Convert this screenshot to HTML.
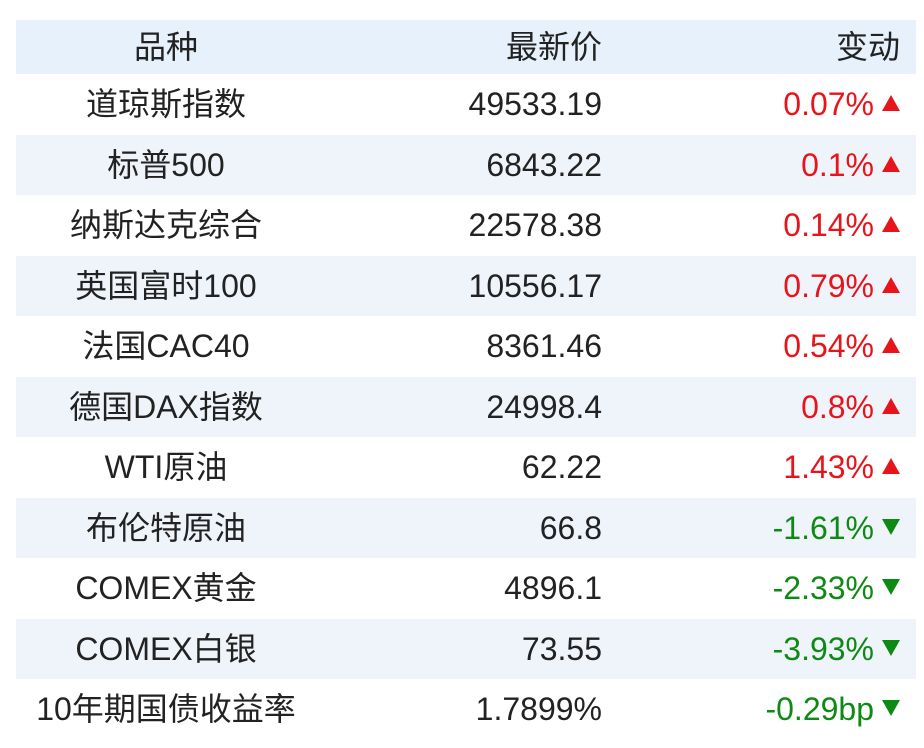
<!DOCTYPE html>
<html><head><meta charset="utf-8"><style>
body{margin:0;background:#fff;width:924px;height:748px;overflow:hidden;font-family:"Liberation Sans","Noto Sans CJK SC",sans-serif;}
.t{position:absolute;left:16px;top:20px;width:900px;}
.r{position:relative;height:60.5px;font-size:32px;color:#222;}
.h{height:54px;background:#e6f1fb;}
.alt{background:#eff4fb;}
.c1{position:absolute;left:0;width:300px;text-align:center;top:50%;transform:translateY(-50%);line-height:1;}
.c2{position:absolute;right:314px;top:50%;transform:translateY(-50%);line-height:1;}
.c3{position:absolute;right:16px;top:50%;transform:translateY(-50%);line-height:1;white-space:nowrap;}
.up{color:#e8141c}.dn{color:#0d8a14}
.tu,.td{display:inline-block;width:0;height:0;margin-left:8px;border-left:9px solid transparent;border-right:9px solid transparent;vertical-align:4px;}
.tu{border-bottom:16px solid #e8141c;}
.td{border-top:16px solid #0d8a14;}
</style></head><body>
<div class="t">
<div class="r h"><div class="c1">品种</div><div class="c2">最新价</div><div class="c3" style="right:16px">变动</div></div>
<div class="r"><div class="c1">道琼斯指数</div><div class="c2">49533.19</div><div class="c3 up">0.07%<span class="tu"></span></div></div>
<div class="r alt"><div class="c1">标普500</div><div class="c2">6843.22</div><div class="c3 up">0.1%<span class="tu"></span></div></div>
<div class="r"><div class="c1">纳斯达克综合</div><div class="c2">22578.38</div><div class="c3 up">0.14%<span class="tu"></span></div></div>
<div class="r alt"><div class="c1">英国富时100</div><div class="c2">10556.17</div><div class="c3 up">0.79%<span class="tu"></span></div></div>
<div class="r"><div class="c1">法国CAC40</div><div class="c2">8361.46</div><div class="c3 up">0.54%<span class="tu"></span></div></div>
<div class="r alt"><div class="c1">德国DAX指数</div><div class="c2">24998.4</div><div class="c3 up">0.8%<span class="tu"></span></div></div>
<div class="r"><div class="c1">WTI原油</div><div class="c2">62.22</div><div class="c3 up">1.43%<span class="tu"></span></div></div>
<div class="r alt"><div class="c1">布伦特原油</div><div class="c2">66.8</div><div class="c3 dn">-1.61%<span class="td"></span></div></div>
<div class="r"><div class="c1">COMEX黄金</div><div class="c2">4896.1</div><div class="c3 dn">-2.33%<span class="td"></span></div></div>
<div class="r alt"><div class="c1">COMEX白银</div><div class="c2">73.55</div><div class="c3 dn">-3.93%<span class="td"></span></div></div>
<div class="r"><div class="c1">10年期国债收益率</div><div class="c2">1.7899%</div><div class="c3 dn">-0.29bp<span class="td"></span></div></div>
</div>
</body></html>
